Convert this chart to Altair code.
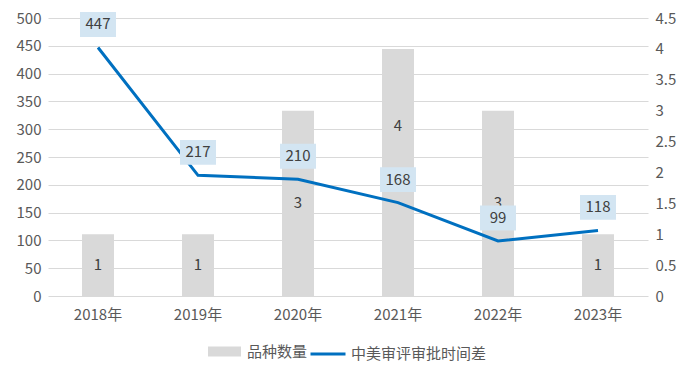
import altair as alt
import pandas as pd

years = ["2018年", "2019年", "2020年", "2021年", "2022年", "2023年"]
counts = [1, 1, 3, 4, 3, 1]
gaps = [447, 217, 210, 168, 99, 118]
bar_name = "品种数量"
line_name = "中美审评审批时间差"

df = pd.DataFrame({
    "year": years,
    "count": counts,
    "gap": gaps,
    "bar_series": [bar_name] * len(years),
    "line_series": [line_name] * len(years),
})

FONT = "Noto Sans CJK SC"
GREY = "#595959"
FS = 15

x_enc = alt.X(
    "year:N", sort=years, title=None,
    scale=alt.Scale(paddingInner=0, paddingOuter=0),
    axis=alt.Axis(labelAngle=0, ticks=False, domain=False, labelPadding=11,
                  labelFont=FONT, labelFontSize=FS, labelColor=GREY),
)

right_axis = alt.Axis(orient="right", grid=False, ticks=False, domain=False,
                      values=[0, 0.5, 1, 1.5, 2, 2.5, 3, 3.5, 4, 4.5], format="~g",
                      labelFont=FONT, labelFontSize=FS, labelColor=GREY,
                      labelPadding=7, title=None)
right_scale = alt.Scale(domain=[0, 4.5], nice=False, zero=True)

bars = alt.Chart(df).mark_bar(size=32).encode(
    x=x_enc,
    y=alt.Y("count:Q", scale=right_scale, axis=right_axis),
    fill=alt.Fill("bar_series:N", scale=alt.Scale(domain=[bar_name], range=["#D9D9D9"]),
                  legend=alt.Legend(title=None, orient="none", legendX=160, legendY=317,
                                    symbolType="M-1,-0.3L1,-0.3L1,0.3L-1,0.3Z",
                                    symbolSize=1089, symbolStrokeWidth=0,
                                    labelFont=FONT, labelFontSize=FS, labelColor=GREY,
                                    labelOffset=6)),
)

bar_labels_base = alt.Chart(df).transform_calculate(mid="datum.count / 2")

bar_labels = bar_labels_base.transform_filter(alt.datum.count != 4).mark_text(
    font=FONT, fontSize=FS, color="#404040").encode(
    x=x_enc,
    y=alt.Y("mid:Q", scale=right_scale, axis=right_axis),
    text="count:Q",
)
bar_labels_top = bar_labels_base.transform_filter(alt.datum.count == 4).mark_text(
    font=FONT, fontSize=FS, color="#404040", yOffset=-46).encode(
    x=x_enc,
    y=alt.Y("mid:Q", scale=right_scale, axis=right_axis),
    text="count:Q",
)

left_scale = alt.Scale(domain=[0, 500], nice=False)
left_axis = alt.Axis(orient="left", grid=True, gridColor="#D9D9D9", gridWidth=1,
                     ticks=False, domain=False,
                     values=list(range(0, 501, 50)),
                     labelFont=FONT, labelFontSize=FS, labelColor=GREY,
                     labelPadding=7, title=None)

line = alt.Chart(df).mark_line(strokeWidth=3).encode(
    x=x_enc,
    y=alt.Y("gap:Q", scale=left_scale, axis=left_axis),
    stroke=alt.Stroke("line_series:N", scale=alt.Scale(domain=[line_name], range=["#0070C0"]),
                      legend=alt.Legend(title=None, orient="none", legendX=261, legendY=317,
                                        symbolType="stroke", symbolSize=1225,
                                        symbolStrokeWidth=3,
                                        labelFont=FONT, labelFontSize=FS, labelColor=GREY,
                                        labelOffset=4)),
)

boxes = alt.Chart(df).mark_point(
    shape="M-1,-0.69L1,-0.69L1,0.69L-1,0.69Z", size=1296, filled=True,
    color="#D3E5F2", opacity=1, yOffset=-23, strokeWidth=0,
).encode(
    x=x_enc,
    y=alt.Y("gap:Q", scale=left_scale, axis=left_axis),
)

box_text = alt.Chart(df).mark_text(font=FONT, fontSize=FS, color="#404040", yOffset=-23).encode(
    x=x_enc,
    y=alt.Y("gap:Q", scale=left_scale, axis=left_axis),
    text="gap:Q",
)

chart = alt.layer(
    alt.layer(bars, bar_labels, bar_labels_top),
    alt.layer(line, boxes, box_text),
).resolve_scale(y="independent").properties(
    width=600, height=278,
    autosize=alt.AutoSizeParams(type="none"),
    padding={"left": 40, "top": 10, "right": 34, "bottom": 72},
).configure_view(stroke=None)

chart.save("out.html", embed_options={"renderer": "svg", "actions": False})
